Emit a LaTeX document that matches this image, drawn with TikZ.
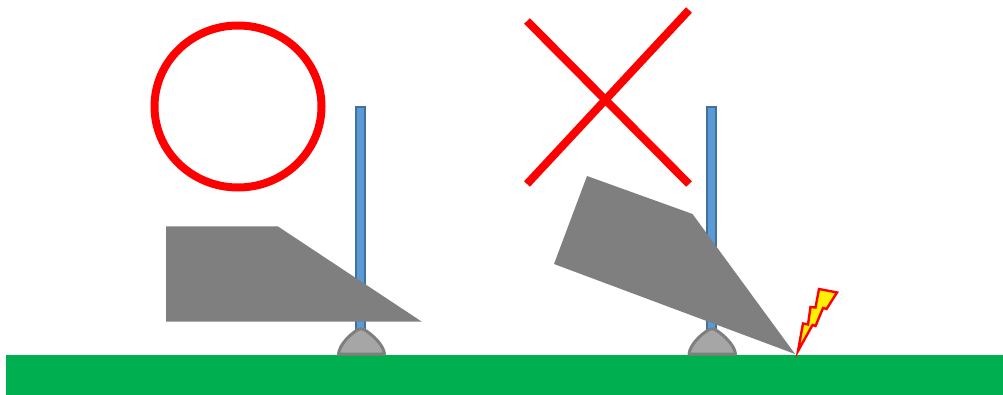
\documentclass[tikz,border=0pt]{standalone}
\definecolor{groundgreen}{RGB}{0,176,80}
\definecolor{polefill}{RGB}{91,155,213}
\definecolor{poleline}{RGB}{65,113,156}
\definecolor{domefill}{RGB}{166,166,166}
\definecolor{domeline}{RGB}{127,127,127}
\definecolor{wedge}{RGB}{127,127,127}
\tikzset{
  markred/.style={draw=red,line width=8pt},
  polebar/.style={fill=polefill,draw=poleline,line width=2pt},
  domeshape/.style={fill=domefill,draw=domeline,line width=3pt,line join=round},
  wedgeshape/.style={fill=wedge},
  ground/.style={fill=groundgreen},
  bolt/.style={fill=yellow,draw=red,line width=2.4pt,line join=miter}
}
\begin{document}
\begin{tikzpicture}[x=1pt,y=-1pt]
\useasboundingbox (0,0) rectangle (1003,395);
\fill[white] (0,0) rectangle (1003,395);
% ground
\path[ground] (6,355) rectangle (1003,395);
% circle mark
\draw[markred] (238,106.5) ellipse [x radius=83.5,y radius=81];
% cross mark
\draw[markred] (527,21) -- (689,184);
\draw[markred] (689,10) -- (527,184);
% poles
\path[polebar] (356,107.5) rectangle (365,332);
\path[polebar] (707,107.5) rectangle (716,332);
% domes
\path[domeshape] (338.5,354) .. controls (339.5,345) and (349,335) .. (358,329.5) .. controls (360,328.5) and (362,328.5) .. (364,329.5) .. controls (373,335) and (383.5,345) .. (384.5,354) -- cycle;
\path[domeshape] (689,354) .. controls (690,345) and (700,335) .. (709,329.5) .. controls (711,328.5) and (713,328.5) .. (715,329.5) .. controls (724,335) and (734.5,345) .. (735.5,354) -- cycle;
% wedges
\path[wedgeshape] (166,226.5) -- (278,226.5) -- (421.5,321.5) -- (166,321.5) -- cycle;
\path[wedgeshape] (587,176) -- (692.5,214) -- (795,354) -- (554,264) -- cycle;
% bolt
\path[bolt] (819,289) -- (837,292.5) -- (826.5,309) -- (823,308) -- (815.5,326) -- (812.5,325) -- (798,351) -- (803,323.5) -- (808,324.5) -- (810.5,307) -- (815.5,307.5) -- cycle;
\end{tikzpicture}
\end{document}
